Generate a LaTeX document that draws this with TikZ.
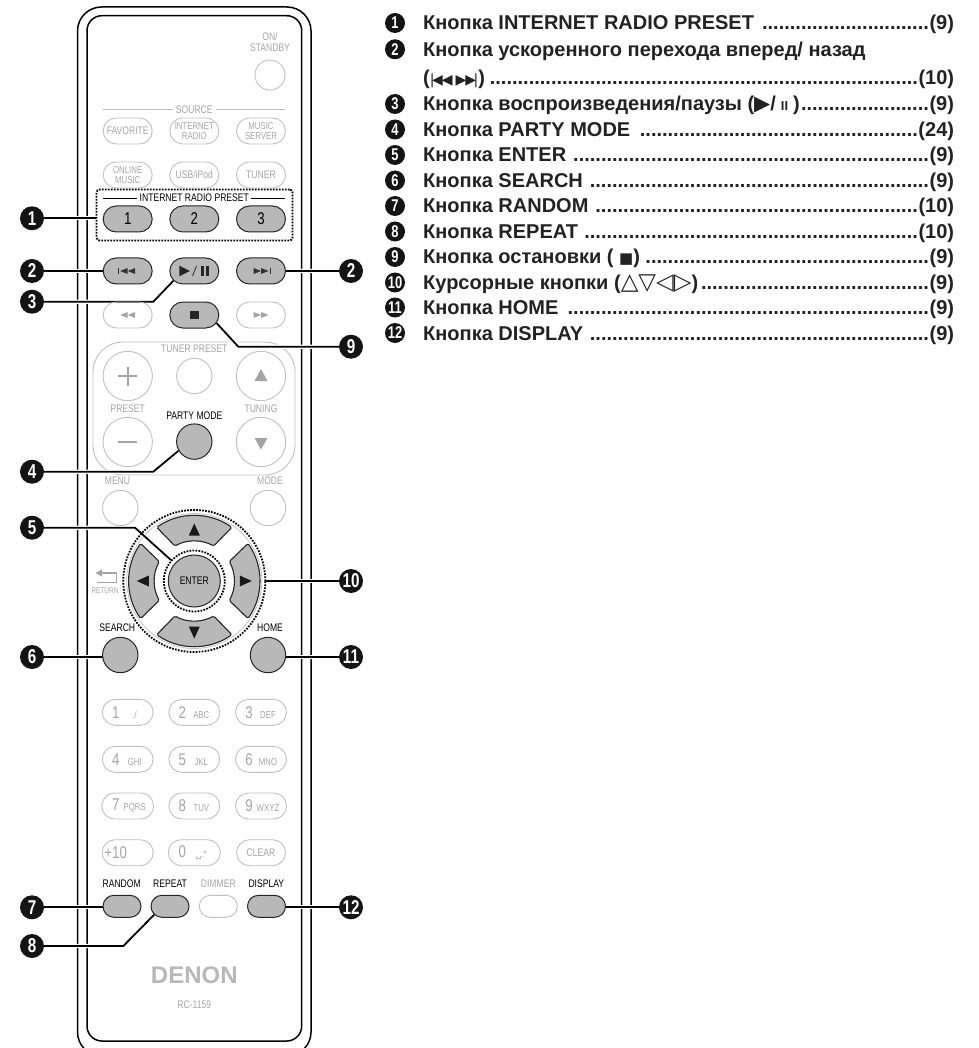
\documentclass[tikz,border=0pt]{standalone}
\usepackage{fontspec}
\setmainfont{Liberation Sans}
\newfontfamily\remotefont[FakeStretch=0.78]{Liberation Sans}
\newfontfamily\numfont[FakeStretch=0.76]{Liberation Sans}
\newfontfamily\symfont{DejaVu Sans}
\usetikzlibrary{calc,shapes.misc}
\pgfdeclarelayer{bodylayer}
\pgfdeclarelayer{leadlayer}
\pgfsetlayers{bodylayer,leadlayer,main}
\definecolor{softline}{HTML}{C0C0C0}
\definecolor{softtext}{HTML}{A4A4A4}
\definecolor{hotfill}{HTML}{B8B8B8}
\definecolor{listtext}{HTML}{222222}
\newcommand{\keytext}[2]{\makebox[24pt]{\fontsize{17}{17}\selectfont #1}\makebox[14pt]{\fontsize{10}{10}\selectfont #2}\hspace{10pt}}
\tikzset{
	pillbtn/.style={rounded rectangle,minimum width=49pt,minimum height=26pt,inner sep=0pt,align=center,font=\remotefont\fontsize{11}{10}\selectfont},
	softpill/.style={pillbtn,draw=softline,text=softtext,line width=0.9pt},
	hotpill/.style={pillbtn,draw=black!85,fill=hotfill,text=black,line width=1pt},
	smallsize/.style={minimum width=38pt,minimum height=22pt},
	softround/.style={circle,draw=softline,line width=0.9pt,inner sep=0pt,minimum size=#1},
	hotround/.style={circle,draw=black!85,fill=hotfill,line width=1pt,inner sep=0pt,minimum size=#1},
	softlabel/.style={text=softtext,inner sep=0pt,align=center,font=\remotefont\fontsize{11}{10.5}\selectfont},
	hotlabel/.style={softlabel,text=black},
	callout/.style={circle,fill=black!92,text=white,inner sep=0pt,minimum size=24pt,font=\numfont\bfseries\fontsize{20}{20}\selectfont},
	listmark/.style={callout,minimum size=20pt,font=\numfont\bfseries\fontsize{17}{17}\selectfont},
	listrow/.style={anchor=base west,inner sep=0pt,text=listtext,font=\bfseries\fontsize{20}{21}\selectfont},
	lead/.style={draw=black,line width=1.8pt,preaction={draw,white,line width=4.2pt}},
	dotring/.style={draw=black,line width=1.8pt,dash pattern=on 1.7pt off 1.3pt},
}
\begin{document}
\begin{tikzpicture}[x=1pt,y=-1pt]
	\useasboundingbox (0,0) rectangle (978,1048);
	% body of the remote
	\begin{pgfonlayer}{bodylayer}
		\begin{scope}
			\clip (0,0) rectangle (978,1048);
			\draw[line width=1.5pt, rounded corners=24pt] (77.5,7) rectangle (311,1056);
		\end{scope}
		\draw[line width=1.5pt, rounded corners=15pt] (87,15.7) rectangle (301.7,1041);
		\draw[softline, line width=0.9pt, rounded corners=30pt] (93,342) rectangle (295,475);
		\draw[softline, line width=0.9pt] (103,109.5) -- (285,109.5);
		\draw[line width=0.9pt] (103,198) -- (285,198);
		\draw[softline, line width=0.7pt] (194.3,581) circle (67.5);
		\foreach \a in {0,90,180,270} {
			\begin{scope}[shift={(194.3,581)}, x=1pt, y=1pt, rotate=\a]
				\draw[black!85, fill=hotfill, line width=1.1pt, rounded corners=1.5pt] (55:65.5) arc[start angle=55, end angle=125, radius=65.5] -- (119:40) arc[start angle=119, end angle=61, radius=40] -- cycle;
				\fill[black!90] (-5.5,45.5) -- (5.5,45.5) -- (0,57.5) -- cycle;
			\end{scope}
		}
	\end{pgfonlayer}
	% source buttons
	\node[softlabel, fill=white, inner sep=3pt] (srclabel) at (194.3,109.5) {SOURCE};
	\node[softlabel] (onlabel) at (270,42) {ON/\\STANDBY};
	\node[softround=30pt] (onbtn) at (270,75) {};
	\node[softpill] (favbtn) at (127.7,131) {FAVORITE};
	\node[softpill, font=\remotefont\fontsize{10}{9.5}\selectfont] (radiobtn) at (194.3,131) {INTERNET\\RADIO};
	\node[softpill, font=\remotefont\fontsize{10}{9.5}\selectfont] (serverbtn) at (261,131) {MUSIC\\SERVER};
	\node[softpill, font=\remotefont\fontsize{10}{9.5}\selectfont] (onlinebtn) at (127.7,175) {ONLINE\\MUSIC};
	\node[softpill] (usbbtn) at (194.3,175) {USB/iPod};
	\node[softpill] (tunerbtn) at (261,175) {TUNER};
	% preset group
	\node[hotlabel, fill=white, inner sep=2.5pt] (presetlabel) at (194.3,198) {INTERNET RADIO PRESET};
	\foreach \k/\x in {1/127.7,2/194.3,3/261} {
		\node[hotpill, font=\remotefont\fontsize{17}{17}\selectfont] (preset\k) at (\x,219) {\k};
	}
	\node[dotring, rounded corners=3pt, inner sep=0pt, minimum width=196pt, minimum height=51pt] (presetbox) at (194.5,215) {};
	% transport
	\node[hotpill] (prevbtn) at (127.7,271) {};
	\node[hotpill] (playbtn) at (194.3,271) {};
	\node[hotpill] (nextbtn) at (261,271) {};
	\node[softpill] (rewbtn) at (127.7,315) {};
	\node[hotpill] (stopbtn) at (194.3,315) {};
	\node[softpill] (fwdbtn) at (261,315) {};
	\foreach \ix/\iy/\is/\ic in {127.7/271/1/black!80,261/271/-1/black!80,127.7/315/1/softtext,261/315/-1/softtext} {
		\begin{scope}[shift={(\ix,\iy)}, xscale=\is]
			\fill[\ic] (-7.5,0) -- (0,-3) -- (0,3) -- cycle;
			\fill[\ic] (0,0) -- (7.5,-3) -- (7.5,3) -- cycle;
		\end{scope}
	}
	\fill[black!80] (118,268) rectangle (119.2,274);
	\fill[black!80] (269.5,268) rectangle (270.7,274);
	\fill[black!85] (179.3,265.7) -- (190,271) -- (179.3,276.3) -- cycle;
	\draw[black!85, line width=0.8pt] (192.5,276) -- (196.5,266);
	\fill[black!85] (201,265.7) rectangle (204,276.3);
	\fill[black!85] (206,265.7) rectangle (209,276.3);
	\fill[black!85] (190,311.3) rectangle (199,319.3);
	% tuner panel
	\node[softlabel] (tplabel) at (194.3,349) {TUNER PRESET};
	\node[softround=49.4pt] (plusbtn) at (127.7,376) {};
	\node[softround=35.4pt] (tpbtn) at (194.3,376) {};
	\node[softround=49.4pt] (upbtn) at (261,376) {};
	\node[softlabel] (presettxt) at (127.7,409) {PRESET};
	\node[hotlabel] (partytxt) at (194.3,415.7) {PARTY MODE};
	\node[softlabel] (tuningtxt) at (261,409) {TUNING};
	\node[softround=49.4pt] (minusbtn) at (127.7,442) {};
	\node[hotround=35.4pt] (partybtn) at (194.3,441.6) {};
	\node[softround=49.4pt] (downbtn) at (261,442) {};
	\draw[softtext, line width=2pt] (118,376) -- (137,376) (127.7,366.5) -- (127.7,385.5);
	\draw[softtext, line width=2pt] (118,442) -- (137,442);
	\fill[softtext] (254.5,381) -- (267.5,381) -- (261,369) -- cycle;
	\fill[softtext] (254.5,438) -- (267.5,438) -- (261,449.5) -- cycle;
	\node[softlabel] (menutxt) at (117.5,481) {MENU};
	\node[softlabel] (modetxt) at (270,481) {MODE};
	\node[softround=35.4pt] (menubtn) at (120.3,508) {};
	\node[softround=35.4pt] (modebtn) at (268,508) {};
	% cursor pad
	\node[dotring, circle, inner sep=0pt, minimum size=142pt] (padring) at (194.3,581) {};
	\node[dotring, circle, fill=white, inner sep=0pt, minimum size=61pt] (enterring) at (194.3,581) {};
	\node[hotround=52pt, font=\remotefont\fontsize{11}{11}\selectfont] (enterbtn) at (194.3,581) {ENTER};
	\draw[softtext, line width=1.3pt] (99,573) -- (116.2,573) -- (116.2,582.5) -- (97,582.5);
	\fill[softtext] (95.5,573) -- (102,569.5) -- (102,576.5) -- cycle;
	\node[softlabel, font=\remotefont\fontsize{8.3}{9}\selectfont] (returntxt) at (105,590.7) {RETURN};
	\node[hotlabel] (searchtxt) at (117.3,627.7) {SEARCH};
	\node[hotlabel] (hometxt) at (270,627.7) {HOME};
	\node[hotround=35.4pt] (searchbtn) at (120.3,655) {};
	\node[hotround=35.4pt] (homebtn) at (268,655) {};
	% number keys
	\foreach \kd/\kx/\ky/\ks in {1/127.7/712.3/{./},2/194.3/712.3/ABC,3/261/712.3/DEF,4/127.7/759.3/GHI,5/194.3/759.3/JKL,6/261/759.3/MNO,7/127.7/806/PQRS,8/194.3/806/TUV,9/261/806/WXYZ} {
		\node[softpill] (key\kd) at (\kx,\ky) {\keytext{\kd}{\ks}};
	}
	\node[softpill] (keyplus) at (127.7,852.7) {\keytext{+10}{}};
	\node[softpill] (keyzero) at (194.3,852.7) {\keytext{0}{{\symfont\fontsize{9}{9}\selectfont ␣}.*}};
	\node[softpill] (keyclear) at (261,852.7) {CLEAR};
	% bottom row
	\node[hotlabel] (randomtxt) at (121.7,883.3) {RANDOM};
	\node[hotlabel] (repeattxt) at (170,883.3) {REPEAT};
	\node[softlabel] (dimmertxt) at (218.3,883.3) {DIMMER};
	\node[hotlabel] (displaytxt) at (266.3,883.3) {DISPLAY};
	\node[hotpill, smallsize] (randombtn) at (122,906.3) {};
	\node[hotpill, smallsize] (repeatbtn) at (170,906.3) {};
	\node[softpill, smallsize] (dimmerbtn) at (218.3,906.3) {};
	\node[hotpill, smallsize] (displaybtn) at (266.5,906.3) {};
	\node[softlabel, font=\bfseries\fontsize{24}{24}\selectfont, text=hotfill] (brandtxt) at (194.3,975) {DENON};
	\node[softlabel] (modeltxt) at (194.3,1005) {RC-1159};
	% callouts
	\foreach \n/\t/\x/\y in {1/1/32/218.3,2l/2/32/271,3/3/32/301.7,4/4/32/471.7,5/5/32/527.7,6/6/32/657,7/7/32/907.3,8/8/32/946,2r/2/351/271,9/9/351/346.7,10/10/351/581,11/11/351/657,12/12/351/907.3} {
		\node[callout] (call\n) at (\x,\y) {\t};
	}
	\begin{pgfonlayer}{leadlayer}
		\coordinate (bend3) at (153.3,301.7);
		\coordinate (bend4) at (153.3,471.7);
		\coordinate (bend5) at (135,527.7);
		\coordinate (bend8) at (123.3,946);
		\coordinate (bend9) at (238.3,346.7);
		\draw[lead] (call1) -- (call1 -| presetbox.west);
		\draw[lead] (call2l) -- (prevbtn);
		\draw[lead] (nextbtn) -- (call2r);
		\draw[lead] (call3) -- (bend3) -- (playbtn.205);
		\draw[lead] (call4) -- (bend4) -- (partybtn.210);
		\draw[lead] (call5) -- (bend5) -- (enterring);
		\draw[lead] (call6) -- (call6 -| searchbtn);
		\draw[lead] (call7) -- (call7 -| randombtn);
		\draw[lead] (call8) -- (bend8) -- (repeatbtn.208);
		\draw[lead] (stopbtn.340) -- (bend9) -- (call9);
		\draw[lead] (padring.east) -- (call10);
		\draw[lead] (call11 -| homebtn) -- (call11);
		\draw[lead] (call12 -| displaybtn) -- (call12);
	\end{pgfonlayer}
	% list on the right
	\foreach \ln/\ly/\lt/\lp in {1/23/{Кнопка INTERNET RADIO PRESET }/9,
		3/104/{Кнопка воспроизведения/паузы ({\symfont\mdseries\fontsize{21}{21}\selectfont ▶}/\kern5pt{\fontsize{13}{13}\selectfont II}\kern5pt)}/9,
		4/129.5/{Кнопка PARTY MODE }/24,
		5/155/{Кнопка ENTER }/9,
		6/180.5/{Кнопка SEARCH }/9,
		7/206/{Кнопка RANDOM }/10,
		8/231.5/{Кнопка REPEAT }/10,
		9/257/{Кнопка остановки ( {\symfont\mdseries\fontsize{15}{15}\selectfont ■})}/9,
		10/282.5/{Курсорные кнопки ({\symfont\bfseries\fontsize{23}{23}\selectfont △▽◁▷})}/9,
		11/307.5/{Кнопка HOME }/9,
		12/333/{Кнопка DISPLAY }/9} {
		\node[listmark] (mark\ln) at (395,\ly) {\ln};
		\node[listrow] (row\ln) at (423,\ly+7) {\hbox to 530.7pt{\lt\leaders\hbox{.}\hfill(\lp)}};
	}
	\node[listmark] (mark2) at (395,49.3) {2};
	\node[listrow] (row2) at (423,56.3) {Кнопка ускоренного перехода вперед/ назад};
	\node[listrow] (row2b) at (423,85) {\hbox to 530.7pt{({\symfont\mdseries\fontsize{14}{14}\selectfont |\kern-2.5pt◀\kern-1pt◀\kern3pt▶\kern-1pt▶\kern-2.5pt|})\leaders\hbox{.}\hfill(10)}};
\end{tikzpicture}
\end{document}
